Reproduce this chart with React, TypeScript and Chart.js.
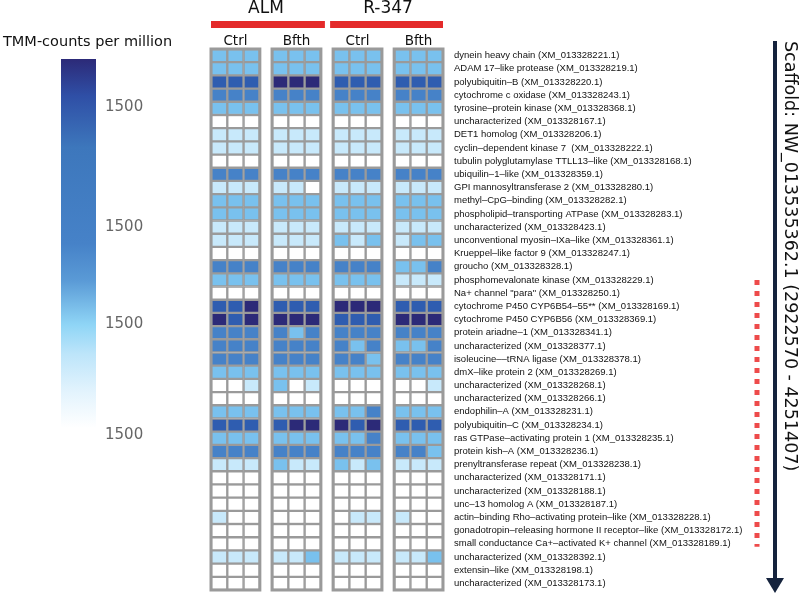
import { useEffect, useRef } from "react";
import { Chart, registerables } from "chart.js";

Chart.register(...registerables);

// ---------- data ----------
const genes = [
  "dynein heavy chain (XM_013328221.1)",
  "ADAM 17\u2013like protease (XM_013328219.1)",
  "polyubiquitin\u2013B (XM_013328220.1)",
  "cytochrome c oxidase (XM_013328243.1)",
  "tyrosine\u2013protein kinase (XM_013328368.1)",
  "uncharacterized (XM_013328167.1)",
  "DET1 homolog (XM_013328206.1)",
  "cyclin\u2013dependent kinase 7  (XM_013328222.1)",
  "tubulin polyglutamylase TTLL13\u2013like (XM_013328168.1)",
  "ubiquilin\u20131\u2013like (XM_013328359.1)",
  "GPI mannosyltransferase 2 (XM_013328280.1)",
  "methyl\u2013CpG\u2013binding (XM_013328282.1)",
  "phospholipid\u2013transporting ATPase (XM_013328283.1)",
  "uncharacterized (XM_013328423.1)",
  "unconventional myosin\u2013IXa\u2013like (XM_013328361.1)",
  "Krueppel\u2013like factor 9 (XM_013328247.1)",
  "groucho (XM_013328328.1)",
  "phosphomevalonate kinase (XM_013328229.1)",
  "Na+ channel \"para\" (XM_013328250.1)",
  "cytochrome P450 CYP6B54\u201355** (XM_013328169.1)",
  "cytochrome P450 CYP6B56 (XM_013328369.1)",
  "protein ariadne\u20131 (XM_013328341.1)",
  "uncharacterized (XM_013328377.1)",
  "isoleucine\u2013\u2013tRNA ligase (XM_013328378.1)",
  "dmX\u2013like protein 2 (XM_013328269.1)",
  "uncharacterized (XM_013328268.1)",
  "uncharacterized (XM_013328266.1)",
  "endophilin\u2013A (XM_013328231.1)",
  "polyubiquitin\u2013C (XM_013328234.1)",
  "ras GTPase\u2013activating protein 1 (XM_013328235.1)",
  "protein kish\u2013A (XM_013328236.1)",
  "prenyltransferase repeat (XM_013328238.1)",
  "uncharacterized (XM_013328171.1)",
  "uncharacterized (XM_013328188.1)",
  "unc\u201313 homolog A (XM_013328187.1)",
  "actin\u2013binding Rho\u2013activating protein\u2013like (XM_013328228.1)",
  "gonadotropin\u2013releasing hormone II receptor\u2013like (XM_013328172.1)",
  "small conductance Ca+\u2013activated K+ channel (XM_013328189.1)",
  "uncharacterized (XM_013328392.1)",
  "extensin\u2013like (XM_013328198.1)",
  "uncharacterized (XM_013328173.1)",
];

// expression level (0 = none ... 5 = highest), three replicates per group
const almCtrl = [
  [2, 2, 2], [2, 2, 2], [4, 4, 4], [3, 3, 3], [2, 2, 2], [0, 0, 0], [1, 1, 1], [1, 1, 1], [0, 0, 0], [3, 3, 3],
  [1, 1, 1], [2, 2, 2], [2, 2, 2], [1, 1, 1], [1, 1, 1], [0, 0, 0], [3, 3, 3], [2, 2, 2], [0, 0, 0], [4, 4, 5],
  [5, 4, 5], [3, 3, 3], [3, 3, 3], [3, 3, 3], [2, 2, 2], [0, 0, 1], [0, 0, 0], [2, 2, 2], [4, 4, 4], [2, 2, 2],
  [3, 3, 3], [1, 1, 1], [0, 0, 0], [0, 0, 0], [0, 0, 0], [1, 0, 0], [0, 0, 0], [0, 0, 0], [1, 1, 1], [0, 0, 0],
  [0, 0, 0],
];
const almBfth = [
  [2, 2, 2], [2, 2, 2], [5, 5, 5], [3, 3, 3], [2, 2, 2], [0, 0, 0], [1, 1, 1], [1, 1, 1], [0, 0, 0], [3, 3, 3],
  [1, 1, 0], [2, 2, 2], [2, 2, 2], [1, 1, 1], [1, 1, 1], [0, 0, 0], [3, 3, 3], [2, 2, 2], [0, 0, 0], [4, 4, 4],
  [5, 5, 5], [3, 2, 3], [3, 3, 3], [3, 3, 3], [2, 2, 2], [2, 0, 1], [0, 0, 0], [2, 2, 2], [4, 5, 5], [2, 2, 2],
  [3, 3, 3], [2, 1, 1], [0, 0, 0], [0, 0, 0], [0, 0, 0], [0, 0, 0], [0, 0, 0], [0, 0, 0], [1, 1, 2], [0, 0, 0],
  [0, 0, 0],
];
const r347Ctrl = [
  [2, 2, 2], [2, 2, 2], [4, 4, 4], [3, 3, 3], [2, 2, 2], [0, 0, 0], [1, 1, 1], [1, 1, 1], [0, 0, 0], [3, 3, 3],
  [1, 1, 1], [2, 2, 2], [2, 2, 2], [1, 1, 1], [2, 1, 2], [0, 0, 0], [3, 3, 3], [2, 2, 2], [0, 0, 0], [5, 5, 5],
  [4, 4, 4], [3, 3, 3], [3, 2, 3], [3, 3, 2], [2, 2, 2], [0, 0, 0], [0, 0, 0], [2, 2, 3], [5, 4, 5], [2, 2, 3],
  [3, 3, 3], [2, 1, 2], [0, 0, 0], [0, 0, 0], [0, 0, 0], [0, 1, 1], [0, 0, 0], [0, 0, 0], [1, 1, 1], [0, 0, 0],
  [0, 0, 0],
];
const r347Bfth = [
  [2, 2, 2], [2, 2, 2], [4, 4, 4], [3, 3, 3], [2, 2, 2], [0, 0, 0], [1, 1, 1], [1, 1, 1], [0, 0, 0], [3, 3, 3],
  [1, 1, 1], [2, 2, 2], [2, 2, 2], [1, 1, 1], [1, 2, 2], [0, 0, 0], [2, 2, 3], [1, 1, 1], [0, 0, 0], [4, 4, 4],
  [5, 5, 5], [3, 3, 3], [2, 2, 3], [3, 3, 3], [2, 2, 2], [0, 0, 1], [0, 0, 0], [2, 2, 2], [4, 4, 4], [2, 2, 2],
  [3, 3, 2], [1, 1, 1], [0, 0, 0], [0, 0, 0], [0, 0, 0], [1, 0, 0], [0, 0, 0], [0, 0, 0], [1, 1, 2], [0, 0, 0],
  [0, 0, 0],
];

const groups = [almCtrl, almBfth, r347Ctrl, r347Bfth];
const treatments = ["Ctrl", "Bfth", "Ctrl", "Bfth"];
const populations = ["ALM", "R-347"];
const levelColors = ["#ffffff", "#c8e9fb", "#79c1ee", "#4682c8", "#2f5db0", "#2c2a78"];
const legendTitle = "TMM-counts per million";
const legendTicks = ["1500", "1500", "1500", "1500"];
const scaffoldLabel = "Scaffold: NW_013535362.1 (2922570 - 4251407)";
const clusterStart = "phosphomevalonate kinase (XM_013328229.1)";
const clusterEnd = "small conductance Ca+\u2013activated K+ channel (XM_013328189.1)";

// ---------- layout constants ----------
const GAP = 0.75;
const PITCH = 3 + GAP;
const X_MAX = (groups.length - 1) * PITCH + 3;

const overlay = {
  id: "overlay",
  afterDatasetsDraw(chart: any) {
    const ctx = chart.ctx;
    const xs = chart.scales.x;
    const { top, bottom } = chart.chartArea;
    ctx.save();
    ctx.strokeStyle = "#9a9a9a";
    ctx.lineWidth = 3;
    groups.forEach((_, g) => {
      const l = xs.getPixelForValue(g * PITCH);
      const r = xs.getPixelForValue(g * PITCH + 3);
      ctx.strokeRect(l, top, r - l, bottom - top);
    });
    ctx.restore();
  },
  afterDraw(chart: any) {
    const ctx = chart.ctx;
    const xs = chart.scales.x;
    const ys = chart.scales.y;
    ctx.save();
    // population headers
    populations.forEach((p, i) => {
      const l = xs.getPixelForValue(i * 2 * PITCH);
      const r = xs.getPixelForValue(i * 2 * PITCH + PITCH + 3);
      ctx.fillStyle = "#e42a2a";
      ctx.fillRect(l - (i === 0 ? 0 : 3), 21, r - l + (i === 0 ? 4 : 3), 7);
      ctx.fillStyle = "#111";
      ctx.font = "17px 'DejaVu Sans'";
      ctx.textAlign = "center";
      ctx.textBaseline = "middle";
      ctx.fillText(p, (l + r) / 2, 9);
    });
    // treatment headers
    treatments.forEach((t, g) => {
      const c = xs.getPixelForValue(g * PITCH + 1.5);
      ctx.fillStyle = "#111";
      ctx.font = "13.5px 'DejaVu Sans'";
      ctx.textAlign = "center";
      ctx.textBaseline = "middle";
      ctx.fillText(t, c, 41);
    });
    // colour legend
    ctx.font = "14.5px 'DejaVu Sans'";
    ctx.textAlign = "left";
    ctx.textBaseline = "middle";
    ctx.fillStyle = "#111";
    ctx.fillText(legendTitle, 3, 42);
    const cbTop = 59, cbBot = 428, cbL = 61, cbW = 35;
    const grad = ctx.createLinearGradient(0, cbTop, 0, cbBot);
    grad.addColorStop(0, "#2c2a78");
    grad.addColorStop(0.1, "#2f4fa6");
    grad.addColorStop(0.24, "#3d77bc");
    grad.addColorStop(0.5, "#4682c8");
    grad.addColorStop(0.6, "#5a9ad6");
    grad.addColorStop(0.72, "#8fd5f6");
    grad.addColorStop(0.8, "#bde5fa");
    grad.addColorStop(0.9, "#e2f3fd");
    grad.addColorStop(1, "#ffffff");
    ctx.fillStyle = grad;
    ctx.fillRect(cbL, cbTop, cbW, cbBot - cbTop);
    const tickYs = [107, 227, 324, 435];
    ctx.font = "15px 'DejaVu Sans'";
    ctx.fillStyle = "#666";
    legendTicks.forEach((t, i) => ctx.fillText(t, 105, tickYs[i]));
    // red dotted cluster marker
    const y0 = ys.getPixelForValue(genes.indexOf(clusterStart));
    const y1 = ys.getPixelForValue(genes.indexOf(clusterEnd));
    ctx.strokeStyle = "#ee4b4b";
    ctx.lineWidth = 5;
    ctx.setLineDash([5, 6]);
    ctx.beginPath();
    ctx.moveTo(757, y0);
    ctx.lineTo(757, y1 + 3);
    ctx.stroke();
    ctx.setLineDash([]);
    // scaffold arrow
    ctx.strokeStyle = "#15233d";
    ctx.fillStyle = "#15233d";
    ctx.lineWidth = 4;
    ctx.beginPath();
    ctx.moveTo(775, 41);
    ctx.lineTo(775, 580);
    ctx.stroke();
    ctx.beginPath();
    ctx.moveTo(766, 578);
    ctx.lineTo(784, 578);
    ctx.lineTo(775, 593);
    ctx.closePath();
    ctx.fill();
    // scaffold label
    ctx.translate(790, 41);
    ctx.rotate(Math.PI / 2);
    ctx.font = "17.5px 'DejaVu Sans'";
    ctx.fillStyle = "#111";
    ctx.textAlign = "left";
    ctx.textBaseline = "middle";
    ctx.fillText(scaffoldLabel, 0, 0);
    ctx.restore();
  },
};

export default function App() {
  const ref = useRef<HTMLCanvasElement | null>(null);
  useEffect(() => {
    if (!ref.current) return;
    const datasets: any[] = [];
    groups.forEach((grp, g) => {
      for (let r = 0; r < 3; r++) {
        const x0 = g * PITCH + r;
        datasets.push({
          label: `${treatments[g]} ${r + 1}`,
          data: genes.map(() => [x0, x0 + 1]),
          backgroundColor: grp.map((row) => levelColors[row[r]]),
          borderColor: "#9a9a9a",
          borderWidth: 1.5,
          borderSkipped: false,
          grouped: false,
          barPercentage: 1,
          categoryPercentage: 1,
        });
      }
    });
    const chart = new Chart(ref.current, {
      type: "bar",
      data: { labels: genes, datasets },
      options: {
        indexAxis: "y",
        responsive: false,
        animation: false,
        devicePixelRatio: 1,
        layout: { padding: { left: 211, top: 49, bottom: 4, right: 0 } },
        plugins: { legend: { display: false }, tooltip: { enabled: false } },
        scales: {
          x: { type: "linear", min: 0, max: X_MAX, display: false },
          y: {
            type: "category",
            position: "right",
            grid: { display: false, drawTicks: false },
            border: { display: false },
            ticks: {
              autoSkip: false,
              padding: 11,
              color: "#111",
              font: { family: "'Liberation Sans', Arial", size: 9.5 },
            },
            afterFit: (axis: any) => {
              axis.width = 357;
              axis.paddingTop = 0;
              axis.paddingBottom = 0;
            },
          },
        },
      },
      plugins: [overlay],
    } as any);
    return () => chart.destroy();
  }, []);
  return (
    <div style={{ position: "absolute", left: 0, top: 0, width: 800, height: 594, background: "#fff" }}>
      <canvas ref={ref} width={800} height={594} />
    </div>
  );
}
